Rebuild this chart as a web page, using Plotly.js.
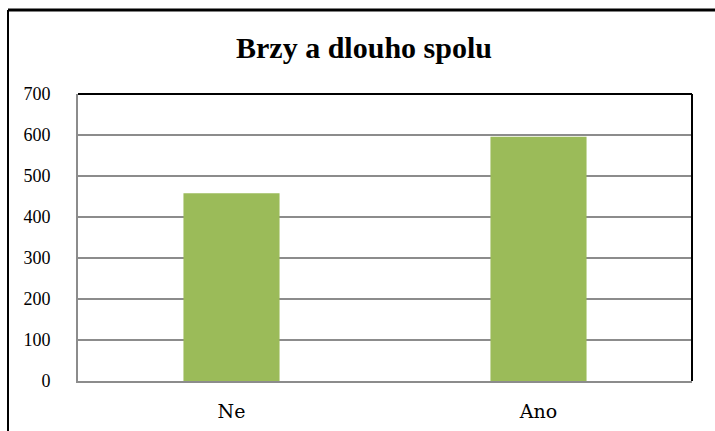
<!DOCTYPE html>
<html>
<head>
<meta charset="utf-8">
<script src="https://cdn.plot.ly/plotly-3.0.1.min.js"></script>
<style>html,body{margin:0;padding:0;background:#fff;}#chart{width:715px;height:431px;}</style>
</head>
<body>
<div id="chart"></div>
<script>
const categories = ["Ne", "Ano"];
const values = [458, 596];
const yTicks = [0, 100, 200, 300, 400, 500, 600, 700];

const L = 78, R = 23, T = 94, B = 50, W = 715, H = 431;
const pw = W - L - R, ph = H - T - B;
const px = x => (x - L) / pw;
const py = y => (H - B - y) / ph;

const trace = {
  type: "bar",
  x: categories,
  y: values,
  marker: { color: "#9BBB59", line: { width: 0 } },
  hoverinfo: "x+y"
};

const layout = {
  width: W, height: H,
  margin: { l: L, r: R, t: T, b: B },
  paper_bgcolor: "#ffffff",
  plot_bgcolor: "#ffffff",
  showlegend: false,
  bargap: 0.687,
  title: {
    text: "<b>Brzy a dlouho spolu</b>",
    font: { family: "Liberation Serif, Times New Roman, serif", size: 30, color: "#000" },
    x: 364 / W, xref: "container", xanchor: "center",
    y: 1 - 58 / H, yref: "container", yanchor: "bottom"
  },
  xaxis: {
    type: "category",
    showline: true, linecolor: "#8c8c8c", linewidth: 2,
    showgrid: false, ticks: "", zeroline: false,
    tickfont: { family: "DejaVu Serif, serif", size: 19, color: "#000" },
    ticklabelstandoff: 12
  },
  yaxis: {
    range: [0, 700],
    tickvals: yTicks,
    ticktext: yTicks.map(String),
    showline: true, linecolor: "#8c8c8c", linewidth: 2,
    showgrid: true, gridcolor: "#8c8c8c", gridwidth: 2,
    zeroline: false, ticks: "",
    tickfont: { family: "Liberation Serif, Times New Roman, serif", size: 18, color: "#000" },
    ticklabelstandoff: 22
  },
  shapes: [
    { type: "line", xref: "paper", yref: "paper", x0: 0, x1: 1, y0: 1, y1: 1, line: { color: "#000", width: 2 } },
    { type: "line", xref: "paper", yref: "paper", x0: 1, x1: 1, y0: 0, y1: 1, line: { color: "#000", width: 2 } },
    { type: "line", xref: "paper", yref: "paper", x0: px(8), x1: px(8), y0: py(10), y1: py(440), line: { color: "#000", width: 2 } },
    { type: "line", xref: "paper", yref: "paper", x0: px(8), x1: px(720), y0: py(10), y1: py(10), line: { color: "#000", width: 3 } }
  ]
};

Plotly.newPlot("chart", [trace], layout, { displayModeBar: false, staticPlot: true });
</script>
</body>
</html>
